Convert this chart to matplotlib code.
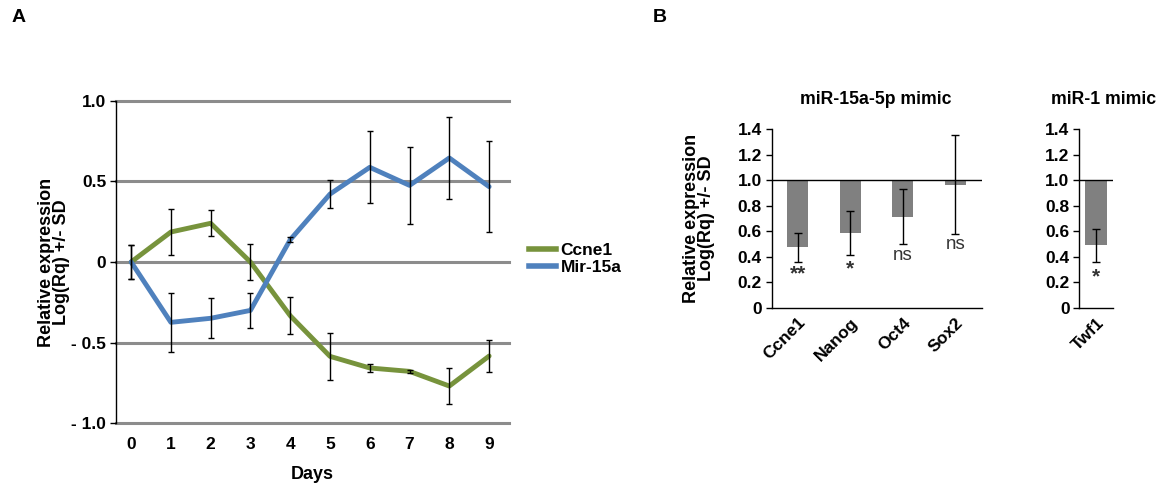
import matplotlib
matplotlib.use("Agg")
import matplotlib.pyplot as plt
from matplotlib.lines import Line2D

plt.rcParams['font.family'] = ['Liberation Sans', 'DejaVu Sans']

# ---- Panel A data ----
days = [0, 1, 2, 3, 4, 5, 6, 7, 8, 9]
ccne1 = [0.0, 0.186, 0.24, 0.0, -0.333, -0.585, -0.657, -0.678, -0.769, -0.583]
ccne1_sd = [0.105, 0.145, 0.08, 0.11, 0.115, 0.145, 0.025, 0.008, 0.113, 0.10]
mir15a = [0.0, -0.374, -0.349, -0.30, 0.138, 0.421, 0.587, 0.475, 0.645, 0.467]
mir15a_sd = [0.105, 0.184, 0.123, 0.108, 0.015, 0.085, 0.224, 0.237, 0.255, 0.284]
a_yticks = [-1.0, -0.5, 0.0, 0.5, 1.0]
a_yticklabels = ['- 1.0', '- 0.5', '0', '0.5', '1.0']

# ---- Panel B data ----
genes_15a = ['Ccne1', 'Nanog', 'Oct4', 'Sox2']
vals_15a = [0.475, 0.585, 0.715, 0.966]
sd_15a = [0.115, 0.173, 0.217, 0.39]
sig_15a = ['**', '*', 'ns', 'ns']
sig_y_15a = [0.29, 0.33, 0.41, 0.50]
genes_1 = ['Twf1']
vals_1 = [0.49]
sd_1 = [0.13]
sig_1 = ['*']
sig_y_1 = [0.27]
b_yticks = [0, 0.2, 0.4, 0.6, 0.8, 1.0, 1.2, 1.4]
b_yticklabels = ['0', '0.2', '0.4', '0.6', '0.8', '1.0', '1.2', '1.4']

W, H = 1176, 486
fig = plt.figure(figsize=(W / 100, H / 100), dpi=100)

def px_axes(x0, x1, ytop, ybot):
    return fig.add_axes([x0 / W, 1 - ybot / H, (x1 - x0) / W, (ybot - ytop) / H])

green = '#77933C'
blue = '#4F81BD'

# ---- Panel A ----
ax = px_axes(116, 509, 100.7, 423.3)
ax.set_xlim(-0.38, 9.5)
ax.set_ylim(-1.0, 1.0)
for y in a_yticks:
    ax.axhline(y, color='#8c8c8c', lw=2.2, zorder=1, clip_on=False)
ax.plot(days, ccne1, color=green, lw=3.5, zorder=3, solid_capstyle='round')
ax.plot(days, mir15a, color=blue, lw=3.5, zorder=3, solid_capstyle='round')
ax.errorbar(days, ccne1, yerr=ccne1_sd, fmt='none', ecolor='black', elinewidth=1, capsize=2, capthick=1, zorder=4)
ax.errorbar(days, mir15a, yerr=mir15a_sd, fmt='none', ecolor='black', elinewidth=1, capsize=2, capthick=1, zorder=4)
for s in ['top', 'right', 'bottom']:
    ax.spines[s].set_visible(False)
ax.spines['left'].set_linewidth(1)
ax.set_yticks(a_yticks)
ax.set_yticklabels(a_yticklabels, fontsize=12.5, fontweight='bold')
ax.tick_params(axis='y', length=4, width=1, pad=3)
ax.set_xticks(days)
ax.set_xticklabels([str(d) for d in days], fontsize=12.5, fontweight='bold')
ax.tick_params(axis='x', length=0, pad=10)
ax.set_xlabel('Days', fontsize=13, fontweight='bold', labelpad=10)
ax.set_ylabel('Relative expression\nLog(Rq) +/- SD', fontsize=13, fontweight='bold', labelpad=1, linespacing=0.85)

handles = [Line2D([0], [0], color=green, lw=4), Line2D([0], [0], color=blue, lw=4)]
fig.legend(handles, ['Ccne1', 'Mir-15a'], loc='center left', bbox_to_anchor=(513 / W, 1 - 259 / H),
           frameon=False, handlelength=1.6, handletextpad=0.25, labelspacing=0.15,
           prop={'size': 12.5, 'weight': 'bold'})

fig.text(12 / W, 1 - 18 / H, 'A', fontsize=14, fontweight='bold', va='center', ha='left')
fig.text(653 / W, 1 - 18 / H, 'B', fontsize=14, fontweight='bold', va='center', ha='left')

# ---- Panel B helper ----
def bar_panel(axb, genes, vals, sds, sigs, sig_ys, width, xlim, ylabel=False):
    xs = list(range(len(genes)))
    axb.set_xlim(*xlim)
    axb.set_ylim(0, 1.4)
    heights = [v - 1.0 for v in vals]
    axb.bar(xs, heights, bottom=1.0, width=width, color='#808080', zorder=2)
    axb.errorbar(xs, vals, yerr=sds, fmt='none', ecolor='black', elinewidth=1, capsize=3, capthick=1, zorder=3)
    axb.axhline(1.0, color='black', lw=1, zorder=4)
    for x, s, y in zip(xs, sigs, sig_ys):
        if s == 'ns':
            axb.text(x, y, s, ha='center', va='center', fontsize=13.5, color='#333333')
        else:
            axb.text(x, y - 0.025, s, ha='center', va='center', fontsize=15, fontweight='bold', color='#333333')
    for s in ['top', 'right']:
        axb.spines[s].set_visible(False)
    axb.spines['left'].set_linewidth(1)
    axb.spines['bottom'].set_linewidth(1)
    axb.set_yticks(b_yticks)
    axb.set_yticklabels(b_yticklabels, fontsize=12.5, fontweight='bold')
    axb.tick_params(axis='y', length=4, width=1, pad=3)
    axb.set_xticks(xs)
    axb.set_xticklabels(genes, fontsize=12.5, fontweight='bold', rotation=45, ha='right', rotation_mode='anchor')
    axb.tick_params(axis='x', length=0, pad=5)
    if ylabel:
        axb.set_ylabel('Relative expression\nLog(Rq) +/- SD', fontsize=13, fontweight='bold', labelpad=16, linespacing=0.85)

axm = px_axes(771.7, 981.7, 129.3, 308)
bar_panel(axm, genes_15a, vals_15a, sd_15a, sig_15a, sig_y_15a, 0.4, (-0.5, 3.5), ylabel=True)
axr = px_axes(1079.3, 1112.7, 129.3, 308)
bar_panel(axr, genes_1, vals_1, sd_1, sig_1, sig_y_1, 0.65, (-0.5, 0.5))

fig.text(876 / W, 1 - 99 / H, 'miR-15a-5p mimic', fontsize=12.7, fontweight='bold', ha='center', va='center')
fig.text(1104 / W, 1 - 99 / H, 'miR-1 mimic', fontsize=12.7, fontweight='bold', ha='center', va='center')

fig.savefig('out.png', dpi=100)
